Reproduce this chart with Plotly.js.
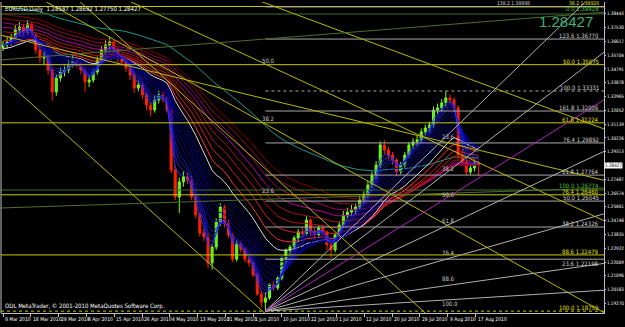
<!DOCTYPE html>
<html><head><meta charset="utf-8">
<script src="https://cdn.plot.ly/plotly-3.0.1.min.js"></script>
<style>html,body{margin:0;padding:0;background:#000;}#chart{width:625px;height:327px;}</style>
</head><body><div id="chart"></div>
<script>
// ---- daily EURUSD bars ----
const openP = [1.3620,1.3638,1.3658,1.3684,1.3737,1.3757,1.3724,1.3777,1.3704,1.3605,
 1.3552,1.3558,1.3472,1.3327,1.3419,1.3459,1.3472,1.3512,1.3538,1.3519,
 1.3472,1.3393,1.3406,1.3459,1.3538,1.3605,1.3638,1.3658,1.3605,1.3552,
 1.3525,1.3485,1.3439,1.3353,1.3373,1.3307,1.3240,1.3207,1.3274,1.3307,
 1.3287,1.3207,1.2810,1.2632,1.2731,1.2765,1.2744,1.2632,1.2512,1.2393,
 1.2367,1.2195,1.2300,1.2466,1.2565,1.2459,1.2380,1.2220,1.2320,1.2286,
 1.2220,1.2195,1.2115,1.1990,1.1935,1.1963,1.2050,1.2030,1.2095,1.2228,
 1.2280,1.2300,1.2360,1.2400,1.2390,1.2479,1.2400,1.2380,1.2426,1.2400,
 1.2314,1.2281,1.2380,1.2446,1.2512,1.2532,1.2545,1.2565,1.2612,1.2645,
 1.2711,1.2777,1.2843,1.2976,1.2943,1.2909,1.2876,1.2797,1.2843,1.2909,
 1.2976,1.2996,1.3009,1.3062,1.3088,1.3108,1.3207,1.3221,1.3254,1.3287,
 1.3274,1.3221,1.2909,1.2863,1.2797,1.2823,1.28587];
const highP = [1.3665,1.3690,1.3712,1.3768,1.3790,1.3779,1.3803,1.3790,1.3722,1.3631,
 1.3590,1.3572,1.3489,1.3440,1.3488,1.3502,1.3540,1.3569,1.3561,1.3531,
 1.3490,1.3440,1.3485,1.3562,1.3630,1.3668,1.3692,1.3671,1.3620,1.3579,
 1.3550,1.3510,1.3460,1.3401,1.3390,1.3325,1.3262,1.3302,1.3335,1.3328,
 1.3300,1.3222,1.2840,1.2760,1.2800,1.2790,1.2770,1.2650,1.2530,1.2420,
 1.2395,1.2318,1.2490,1.2590,1.2580,1.2480,1.2395,1.2345,1.2340,1.2300,
 1.2240,1.2210,1.2130,1.2010,1.2000,1.2062,1.2072,1.2110,1.2240,1.2290,
 1.2315,1.2375,1.2420,1.2430,1.2505,1.2490,1.2425,1.2445,1.2440,1.2410,
 1.2330,1.2395,1.2470,1.2540,1.2560,1.2580,1.2590,1.2640,1.2670,1.2740,
 1.2800,1.2870,1.3000,1.3010,1.2965,1.2930,1.2890,1.2865,1.2930,1.2995,
 1.3020,1.3035,1.3085,1.3110,1.3130,1.3230,1.3250,1.3280,1.33331,1.3310,
 1.3290,1.3240,1.2950,1.2890,1.2850,1.2880,1.28692];
const lowP = [1.3598,1.3612,1.3631,1.3660,1.3705,1.3688,1.3702,1.3680,1.3578,1.3520,
 1.3511,1.3440,1.3268,1.3301,1.3395,1.3430,1.3451,1.3489,1.3488,1.3441,
 1.3330,1.3359,1.3388,1.3440,1.3521,1.3583,1.3601,1.3580,1.3521,1.3498,
 1.3461,1.3405,1.3320,1.3330,1.3280,1.3205,1.3164,1.3190,1.3251,1.3260,
 1.3190,1.2790,1.2610,1.2525,1.2700,1.2718,1.2610,1.2490,1.2370,1.2340,
 1.2161,1.2150,1.2280,1.2440,1.2430,1.2360,1.2200,1.2205,1.2265,1.2200,
 1.2170,1.2100,1.1975,1.1900,1.18759,1.1950,1.2010,1.2015,1.2080,1.2190,
 1.2250,1.2280,1.2330,1.2365,1.2375,1.2370,1.2350,1.2360,1.2380,1.2280,
 1.2230,1.2265,1.2360,1.2430,1.2490,1.2505,1.2520,1.2545,1.2590,1.2620,
 1.2690,1.2750,1.2825,1.2915,1.2880,1.2845,1.2770,1.2780,1.2825,1.2890,
 1.2950,1.2970,1.2990,1.3040,1.3060,1.3090,1.3180,1.3200,1.3230,1.3250,
 1.3195,1.2880,1.2840,1.2777,1.2780,1.2800,1.27750];
const closeP = [1.3638,1.3658,1.3684,1.3737,1.3757,1.3724,1.3777,1.3704,1.3605,1.3552,
 1.3558,1.3472,1.3327,1.3419,1.3459,1.3472,1.3512,1.3538,1.3519,1.3472,
 1.3393,1.3406,1.3459,1.3538,1.3605,1.3638,1.3658,1.3605,1.3552,1.3525,
 1.3485,1.3439,1.3353,1.3373,1.3307,1.3240,1.3207,1.3274,1.3307,1.3287,
 1.3207,1.2810,1.2632,1.2731,1.2765,1.2744,1.2632,1.2512,1.2393,1.2367,
 1.2195,1.2300,1.2466,1.2565,1.2459,1.2380,1.2220,1.2320,1.2286,1.2220,
 1.2195,1.2115,1.1990,1.1935,1.1963,1.2050,1.2030,1.2095,1.2228,1.2280,
 1.2300,1.2360,1.2400,1.2390,1.2479,1.2400,1.2380,1.2426,1.2400,1.2314,
 1.2281,1.2380,1.2446,1.2512,1.2532,1.2545,1.2565,1.2612,1.2645,1.2711,
 1.2777,1.2843,1.2976,1.2943,1.2909,1.2876,1.2797,1.2843,1.2909,1.2976,
 1.2996,1.3009,1.3062,1.3088,1.3108,1.3207,1.3221,1.3254,1.3287,1.3274,
 1.3221,1.2909,1.2863,1.2797,1.2823,1.2857,1.28427];

// time-axis labels (one every few bars, as the terminal spaces them) and price-axis labels
const dateLabels = ["9 Mar 2010","18 Mar 2010","29 Mar 2010","6 Apr 2010","15 Apr 2010","26 Apr 2010",
 "4 May 2010","13 May 2010","21 May 2010","1 Jun 2010","10 Jun 2010","22 Jun 2010","1 Jul 2010",
 "12 Jul 2010","20 Jul 2010","29 Jul 2010","9 Aug 2010","17 Aug 2010"];
const priceTicks = [1.18357,1.19270,1.20183,1.21096,1.22009,1.22922,1.23835,1.24748,1.25661,1.26574,
 1.27487,1.29313,1.30226,1.31139,1.32052,1.32965,1.33878,1.34791,1.35704,1.36617,1.37530,1.38443];
const lastPrice = 1.28427;
const titleText = "EURUSD,Daily  1.28587 1.28692 1.27750 1.28427";

// moving-average ribbons: periods and starting values read at the left edge
const fastPeriods = [3,4,5,6,8,10,12,14,16,18];
const whitePeriod = 21, whiteSeed = 1.3610;
const slowPeriods = [25,30,35,40,45,50,55,60];
const slowSeeds = [1.3640,1.3670,1.3700,1.3730,1.3760,1.3790,1.3820,1.3850];
const tealPeriod = 89, tealSeed = 1.3900;

// Fibonacci anchors
const fibYellowHigh = 1.51391, fibYellowLow = 1.18759;
const fibYellowLevels = [38.2,50.0,61.8,76.4,88.6,100.0];
const fibYellowLeftText = ["","50.0","38.2","23.6","",""];
const fibGrayLow = 1.18759, fibGrayHigh = 1.33331, fibGrayStartBar = 64;
const fibGrayLevels = [23.6,38.2,50.0,61.8,76.4,100.0,123.6,138.2];
const fibGrayLeftText = ["76.4","61.8","50.0","38.2","23.6","","",""];
const fibGrayExtraLabels = ["88.6","100.0"];
const fibGrayExtraPrices = [1.20425,1.18759];
const greenLevels = [1.26777,1.38428];
const greenText = ["100.0 1.26774","0.0 1.38428"];
const grayExtraLevel = 1.32006;

// trend lines [bar0, price0, bar1, price1]
const yellowTrends = [[30.2,1.39355,147.3,1.24659],[-0.73,1.37038,147.3,1.27373],[62,1.39355,147.3,1.30749],
 [-0.73,1.34357,67.6,1.17708],[9.76,1.39355,148.5,1.18370],[18.3,1.39355,106.8,1.17707]];
const oliveTrends = [[-0.73,1.35383,147.3,1.38561],[-0.73,1.25585,147.3,1.26909]];
const fanOrigin = [64,1.18759];
const fanGrayEnds = [1.40613,1.36045,1.29425,1.25255,1.21945,1.20157];
const fanMagentaEnds = [1.32868];
const fanEndBar = 147.3;

// ---------------------------------------------------------------
const N = closeP.length;
const idx = Array.from({length:N},(_,i)=>i);
const LABEL_STEP = 6.78; // bars between time-axis labels
const tickIdx = dateLabels.map((_,k)=>k*LABEL_STEP);

function ema(src,n,seed){const a=2/(n+1);let v=seed;return src.map(c=>{v=v+a*(c-v);return v;});}

const X0=-0.49, X1=146.58;
const traces=[];
traces.push({x:idx,y:ema(closeP,tealPeriod,tealSeed),mode:'lines',line:{color:'#1a9a8a',width:1},hoverinfo:'skip'});
const slowCols=['#800000','#8a1020','#9a0060','#b000a0','#a01818','#c01010','#d82020','#ff3030'];
slowPeriods.slice().reverse().forEach((p,k)=>{
  const s=slowSeeds[slowPeriods.length-1-k];
  traces.push({x:idx,y:ema(closeP,p,s),mode:'lines',line:{color:slowCols[k],width:1},hoverinfo:'skip'});
});
traces.push({x:idx,y:ema(closeP,whitePeriod,whiteSeed),mode:'lines',line:{color:'#d8d8ff',width:1},hoverinfo:'skip'});
const fastCols=['#000070','#00007a','#000088','#000094','#0000a0','#0000b0','#1010c0','#1818d0','#2020e0','#3030ff'];
fastPeriods.slice().reverse().forEach((p,k)=>{
  traces.push({x:idx,y:ema(closeP,p,closeP[0]),mode:'lines',line:{color:fastCols[k],width:1},hoverinfo:'skip'});
});
traces.push({type:'candlestick',x:idx,open:openP,high:highP,low:lowP,close:closeP,
  increasing:{line:{color:'#7CFC00',width:1},fillcolor:'#44ee44'},
  decreasing:{line:{color:'#ff2000',width:1},fillcolor:'#ff2000'},whiskerwidth:0,hoverinfo:'skip'});

const shapes=[];
const ln=(x0,y0,x1,y1,color,width,dash)=>shapes.push({type:'line',xref:'x',yref:'y',x0,y0,x1,y1,line:{color,width:width||1,dash:dash||'solid'}});
const ann=[];
const NARROW='Liberation Sans Narrow, DejaVu Sans Condensed, Roboto Condensed, Liberation Sans, sans-serif';
const fnt=(c,s)=>({family:NARROW,size:s||6,color:c});
const rlab=(p,text,color,opt)=>ann.push(Object.assign({xref:'paper',x:0.995,y:p,xanchor:'right',yanchor:'bottom',text,showarrow:false,font:fnt(color,6),yshift:-2},opt||{}));
fibYellowLevels.forEach((L,k)=>{
  const p=fibYellowHigh-L/100*(fibYellowHigh-fibYellowLow);
  ln(X0,p,X1,p,'#c8c800',1,L===100?'dot':'solid');
  rlab(p,L.toFixed(1)+' '+p.toFixed(5),'#e0e000',k===0?{yshift:-1.5,font:fnt('#e0e000',5)}:{});
  if(fibYellowLeftText[k]) ann.push({x:62.7,y:p,xanchor:'left',yanchor:'bottom',text:fibYellowLeftText[k],showarrow:false,font:fnt('#c8c8c8',6),yshift:-1});
});
fibGrayLevels.forEach((L,k)=>{
  const p=fibGrayLow+L/100*(fibGrayHigh-fibGrayLow);
  ln(fibGrayStartBar,p,X1,p,'#a8a8a8',1,L===100?'dot':'solid');
  let opt={};
  if(L===23.6) opt={yanchor:'top',yshift:1};
  if(L===138.2) opt={x:0.88,yshift:-1.5,font:fnt('#d0d0d0',5)};
  rlab(p,L.toFixed(1)+' '+p.toFixed(5),'#d0d0d0',opt);
  if(fibGrayLeftText[k]) ann.push({x:106.6,y:p,xanchor:'left',yanchor:'bottom',text:fibGrayLeftText[k],showarrow:false,font:fnt('#c8c8c8',6),yshift:1});
});
fibGrayExtraLabels.forEach((t,k)=>ann.push({x:106.6,y:fibGrayExtraPrices[k],xanchor:'left',yanchor:'bottom',text:t,showarrow:false,font:fnt('#c8c8c8',6),yshift:2}));
ln(fibGrayStartBar,grayExtraLevel,X1,grayExtraLevel,'#a8a8a8',1);
rlab(grayExtraLevel,'161.8 '+grayExtraLevel.toFixed(5),'#d0d0d0');
greenLevels.forEach((p,k)=>{ln(X0,p,X1,p,'#3c6e28',1); rlab(p,greenText[k],'#40c040',k===1?{yshift:0}:{yshift:-1});});
yellowTrends.forEach(t=>ln(t[0],t[1],t[2],t[3],'#b8b800',1));
oliveTrends.forEach(t=>ln(t[0],t[1],t[2],t[3],'#4e6e2a',1));
fanGrayEnds.forEach(p=>ln(fanOrigin[0],fanOrigin[1],fanEndBar,p,'#b0b0b0',1));
fanMagentaEnds.forEach(p=>ln(fanOrigin[0],fanOrigin[1],fanEndBar,p,'#b020c0',1));
shapes.push({type:'line',xref:'paper',yref:'paper',x0:0,x1:0,y0:0,y1:1,line:{color:'#c0c0c0',width:1}});

// date labels drawn just under the time axis, starting at their tick
tickIdx.forEach((k,j)=>ann.push({x:k,xref:'x',yref:'paper',y:0,xanchor:'left',yanchor:'top',yshift:-1,xshift:0,
  text:dateLabels[j],showarrow:false,font:fnt('#ffffff',5)}));

ann.push({xref:'paper',yref:'paper',x:0.004,y:0.998,xanchor:'left',yanchor:'top',text:titleText,showarrow:false,font:fnt('#ffffff',6)});
ann.push({xref:'paper',yref:'paper',x:0.004,y:0.004,xanchor:'left',yanchor:'bottom',text:'ODL MetaTrader, © 2001-2010 MetaQuotes Software Corp.',showarrow:false,font:fnt('#ffffff',6)});
ann.push({xref:'paper',x:0.985,y:1.3790,xanchor:'right',yanchor:'middle',text:lastPrice.toFixed(5),showarrow:false,font:{family:'Liberation Sans, Arial, sans-serif',size:15,color:'#3cb371'}});
ann.push({xref:'paper',x:1.0,y:lastPrice,xanchor:'left',yanchor:'middle',text:lastPrice.toFixed(5),showarrow:false,bgcolor:'#ffffff',font:fnt('#000000',4.6),borderpad:0});

const layout={width:625,height:327,margin:{l:1,r:21,t:2,b:14},paper_bgcolor:'#000',plot_bgcolor:'#000',showlegend:false,
 xaxis:{range:[X0,X1],showgrid:false,zeroline:false,showline:true,linecolor:'#c0c0c0',ticks:'outside',ticklen:3,tickcolor:'#c0c0c0',
   tickvals:tickIdx,showticklabels:false,rangeslider:{visible:false},fixedrange:true,automargin:false},
 yaxis:{range:[1.18635,1.39223],side:'right',showgrid:false,zeroline:false,showline:true,linecolor:'#c0c0c0',ticks:'outside',ticklen:1,
   tickcolor:'#c0c0c0',tickvals:priceTicks,ticktext:priceTicks.map(v=>v.toFixed(5)),tickfont:fnt('#ffffff',4.6),fixedrange:true,automargin:false},
 shapes,annotations:ann,hovermode:false};
Plotly.newPlot('chart',traces,layout,{staticPlot:true,displayModeBar:false});
</script></body></html>
